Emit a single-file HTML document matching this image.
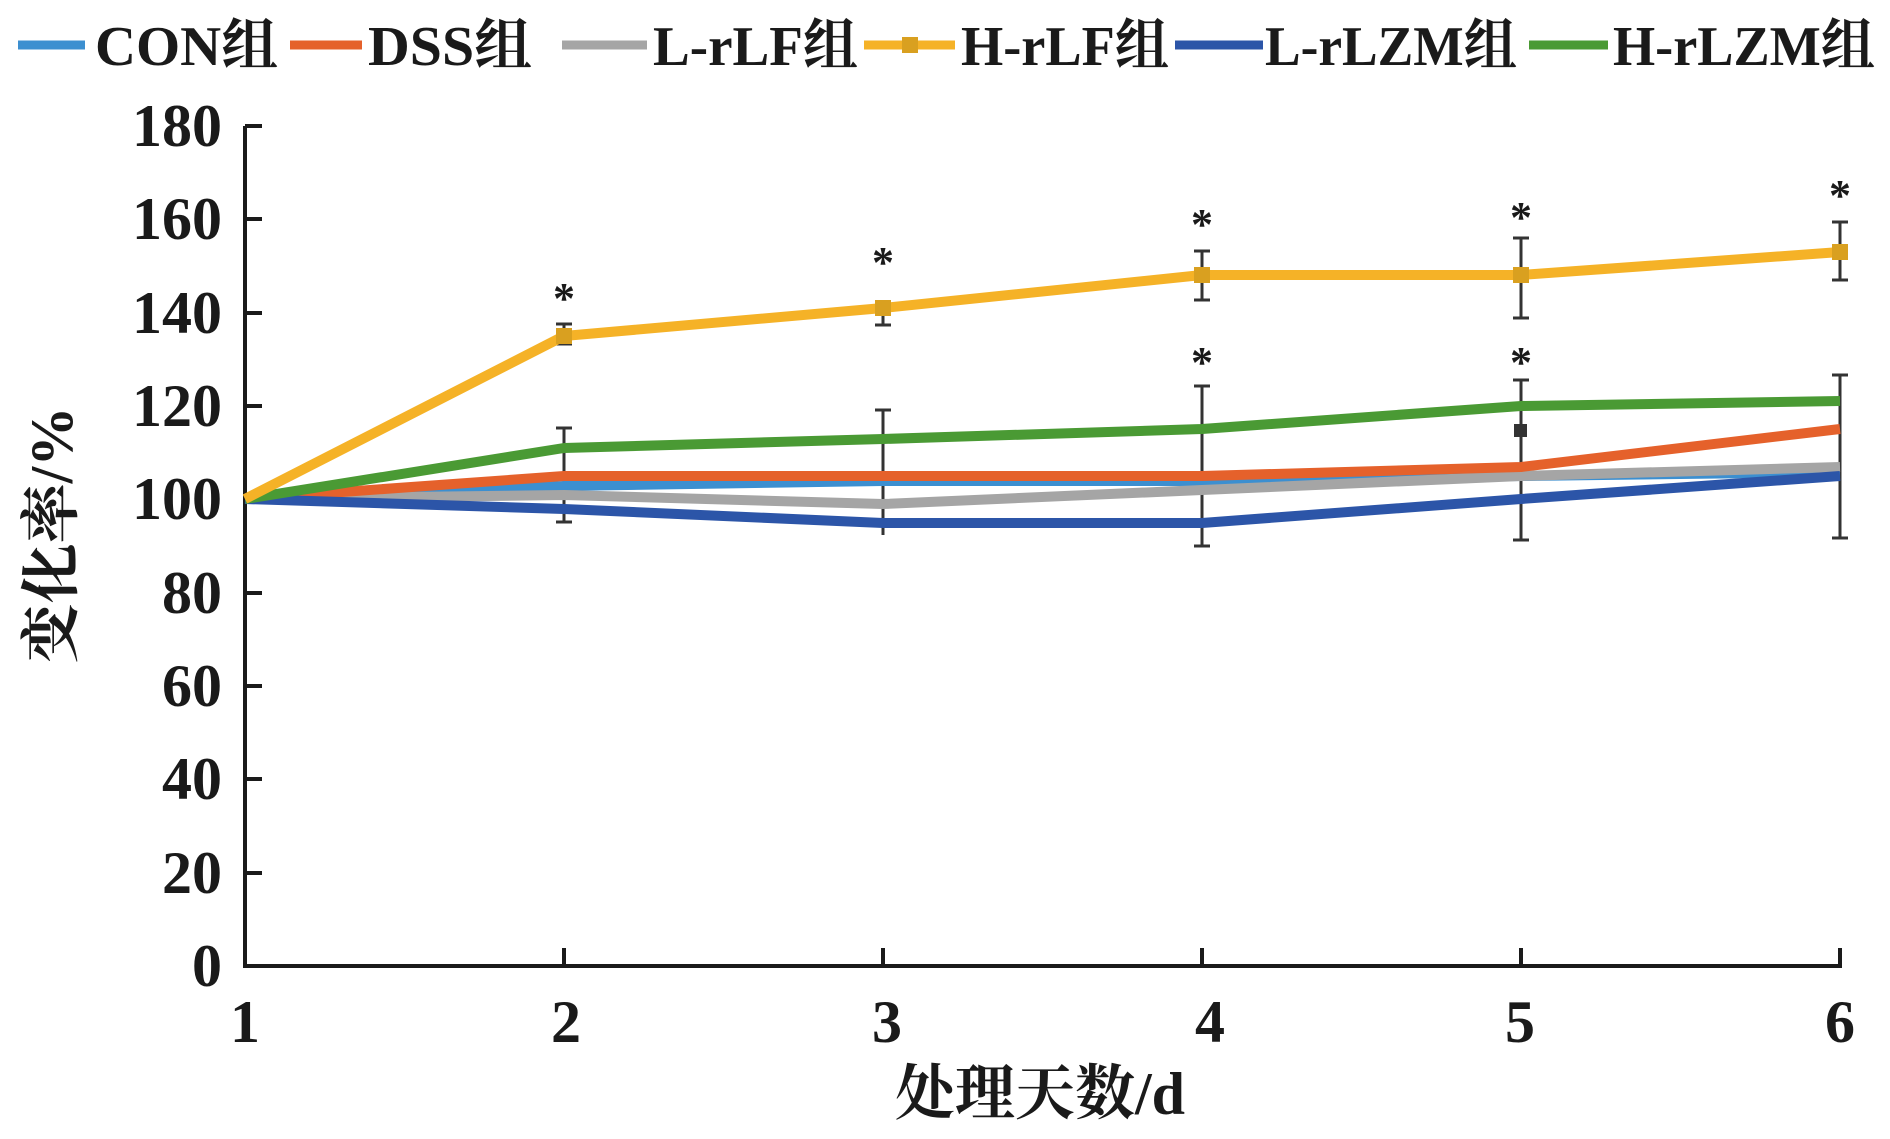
<!DOCTYPE html>
<html><head><meta charset="utf-8"><style>
html,body{margin:0;padding:0;background:#fff;}
svg{display:block;}
text{font-family:"Liberation Serif","Noto Serif CJK SC",serif;font-weight:bold;fill:#1a1a1a;}
</style></head><body>
<svg width="1890" height="1139" viewBox="0 0 1890 1139" xmlns="http://www.w3.org/2000/svg">
<!-- legend -->
<g font-size="56">
<line x1="18" y1="45" x2="85" y2="45" stroke="#3c8fd0" stroke-width="9"/>
<text x="95" y="65" textLength="183" lengthAdjust="spacingAndGlyphs">CON组</text>
<line x1="290" y1="45" x2="362" y2="45" stroke="#e5612b" stroke-width="9"/>
<text x="368" y="65" textLength="164" lengthAdjust="spacingAndGlyphs">DSS组</text>
<line x1="562" y1="45" x2="647" y2="45" stroke="#a5a5a5" stroke-width="9"/>
<text x="653" y="65" textLength="205" lengthAdjust="spacingAndGlyphs">L-rLF组</text>
<line x1="864" y1="45" x2="955" y2="45" stroke="#f5b227" stroke-width="9"/>
<rect x="902" y="37" width="16" height="16" fill="#d9a020"/>
<text x="961" y="65" textLength="208" lengthAdjust="spacingAndGlyphs">H-rLF组</text>
<line x1="1175" y1="45" x2="1263" y2="45" stroke="#2c55a8" stroke-width="9"/>
<text x="1265" y="65" textLength="252" lengthAdjust="spacingAndGlyphs">L-rLZM组</text>
<line x1="1529" y1="45" x2="1608" y2="45" stroke="#4a9a34" stroke-width="9"/>
<text x="1613" y="65" textLength="262" lengthAdjust="spacingAndGlyphs">H-rLZM组</text>
</g>
<!-- axes -->
<g stroke="#1a1a1a" stroke-width="4">
<line x1="245" y1="126" x2="245" y2="968"/>
<line x1="243" y1="966" x2="1842" y2="966"/>
<line x1="245" y1="126" x2="262" y2="126"/><line x1="245" y1="219" x2="262" y2="219"/>
<line x1="245" y1="313" x2="262" y2="313"/><line x1="245" y1="406" x2="262" y2="406"/>
<line x1="245" y1="499" x2="262" y2="499"/><line x1="245" y1="593" x2="262" y2="593"/>
<line x1="245" y1="686" x2="262" y2="686"/><line x1="245" y1="779" x2="262" y2="779"/>
<line x1="245" y1="873" x2="262" y2="873"/>
<line x1="564" y1="966" x2="564" y2="948"/><line x1="883" y1="966" x2="883" y2="948"/>
<line x1="1202" y1="966" x2="1202" y2="948"/><line x1="1521" y1="966" x2="1521" y2="948"/>
<line x1="1840" y1="966" x2="1840" y2="948"/>
</g>
<g font-size="60" text-anchor="end">
<text x="222" y="146">180</text><text x="222" y="239">160</text><text x="222" y="333">140</text>
<text x="222" y="426">120</text><text x="222" y="519">100</text><text x="222" y="613">80</text>
<text x="222" y="706">60</text><text x="222" y="799">40</text><text x="222" y="893">20</text>
<text x="222" y="986">0</text>
</g>
<g font-size="60" text-anchor="middle">
<text x="245" y="1042">1</text><text x="566" y="1042">2</text><text x="887" y="1042">3</text>
<text x="1210" y="1042">4</text><text x="1520" y="1042">5</text><text x="1840" y="1042">6</text>
<text x="1040" y="1114">处理天数/d</text>
<text transform="translate(72,535) rotate(-90)">变化率/%</text>
</g>
<!-- error bars -->
<g stroke="#333" stroke-width="3">
<line x1="564" y1="324" x2="564" y2="344"/><line x1="883" y1="303" x2="883" y2="325"/>
<line x1="1202" y1="251" x2="1202" y2="300"/><line x1="1521" y1="238" x2="1521" y2="318"/>
<line x1="1840" y1="222" x2="1840" y2="280"/>
<line x1="564" y1="428" x2="564" y2="522"/><line x1="883" y1="410" x2="883" y2="535"/>
<line x1="1202" y1="386" x2="1202" y2="546"/><line x1="1521" y1="380" x2="1521" y2="540"/>
<line x1="1840" y1="375" x2="1840" y2="538"/>
</g>
<g stroke="#333" stroke-width="3">
<line x1="556" y1="324" x2="572" y2="324"/><line x1="556" y1="344" x2="572" y2="344"/>
<line x1="875" y1="303" x2="891" y2="303"/><line x1="875" y1="325" x2="891" y2="325"/>
<line x1="1194" y1="251" x2="1210" y2="251"/><line x1="1194" y1="300" x2="1210" y2="300"/>
<line x1="1513" y1="238" x2="1529" y2="238"/><line x1="1513" y1="318" x2="1529" y2="318"/>
<line x1="1832" y1="222" x2="1848" y2="222"/><line x1="1832" y1="280" x2="1848" y2="280"/>
<line x1="556" y1="428" x2="572" y2="428"/><line x1="556" y1="522" x2="572" y2="522"/>
<line x1="875" y1="410" x2="891" y2="410"/><line x1="1194" y1="386" x2="1210" y2="386"/>
<line x1="1194" y1="546" x2="1210" y2="546"/><line x1="1513" y1="380" x2="1529" y2="380"/>
<line x1="1513" y1="540" x2="1529" y2="540"/><line x1="1832" y1="375" x2="1848" y2="375"/>
<line x1="1832" y1="538" x2="1848" y2="538"/>
</g>
<!-- series -->
<g fill="none" stroke-width="10" stroke-linejoin="round">
<polyline stroke="#3c8fd0" points="245,499 564,486 883,481 1202,481 1521,476 1840,472"/>
<polyline stroke="#a5a5a5" points="245,499 564,495 883,504 1202,490 1521,476 1840,467"/>
<polyline stroke="#e5612b" points="245,499 564,476 883,476 1202,476 1521,467 1840,429"/>
<polyline stroke="#2c55a8" points="245,499 564,509 883,523 1202,523 1521,499 1840,476"/>
<polyline stroke="#4a9a34" points="245,499 564,448 883,439 1202,429 1521,406 1840,401"/>
<polyline stroke="#f5b227" points="245,499 564,336 883,308 1202,275 1521,275 1840,252"/>
</g>
<g fill="#d9a020">
<rect x="556" y="328" width="16" height="16"/><rect x="875" y="300" width="16" height="16"/>
<rect x="1194" y="267" width="16" height="16"/><rect x="1513" y="267" width="16" height="16"/>
<rect x="1832" y="244" width="16" height="16"/>
</g>
<rect x="1514" y="424" width="13" height="13" fill="#333"/>
<g font-size="44" text-anchor="middle">
<text x="564" y="313">*</text><text x="883" y="277">*</text><text x="1202" y="239">*</text>
<text x="1521" y="232">*</text><text x="1840" y="210">*</text>
<text x="1202" y="377">*</text><text x="1521" y="377">*</text>
</g>
</svg>
</body></html>
